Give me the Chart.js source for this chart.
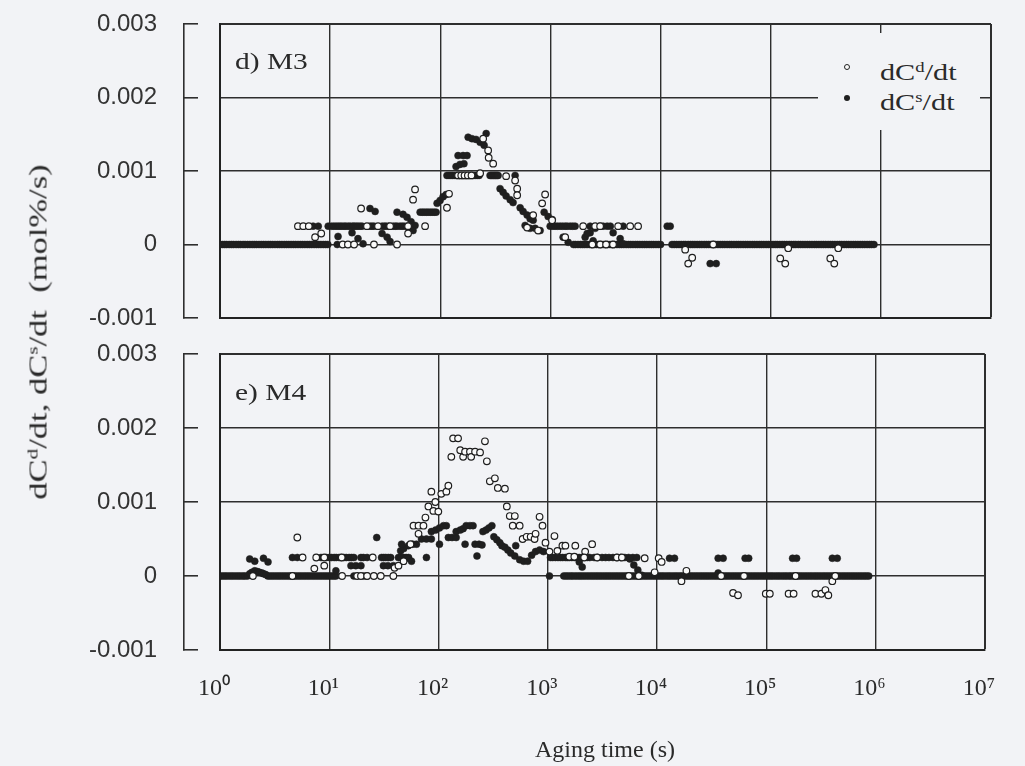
<!DOCTYPE html>
<html>
<head>
<meta charset="utf-8">
<script src="https://cdn.jsdelivr.net/npm/chart.js@4.4.1/dist/chart.umd.min.js"></script>
<style>
html,body{margin:0;padding:0;background:#f2f3f6;}
body{width:1025px;height:766px;position:relative;overflow:hidden;font-family:"Liberation Serif","Times New Roman",serif;color:#2a2a2a;}
.panel{position:absolute;left:0;width:1025px;}
#topPanel{top:0;height:335px;}
#botPanel{top:335px;height:431px;}
.txt{position:absolute;white-space:nowrap;line-height:1;transform-origin:0 0;z-index:5;}
.sp{position:relative;font-size:0.62em;top:-0.55em;}
#legend{position:absolute;left:818px;top:33px;width:162px;height:97px;background:#f2f3f6;z-index:4;}
.mk{position:absolute;width:6px;height:6px;border-radius:50%;box-sizing:border-box;}
#ytitleWrap{position:absolute;left:38px;top:332px;width:0;height:0;z-index:5;}
#ytitle{position:absolute;left:0;top:0;white-space:nowrap;line-height:1;font-size:25px;transform:translate(-50%,-50%) rotate(-90deg) scale(1.38,1);}
</style>
</head>
<body>
<div class="panel" id="topPanel"><canvas id="c1" width="1025" height="335"></canvas></div>
<div class="panel" id="botPanel"><canvas id="c2" width="1025" height="431"></canvas></div>

<div class="txt" style="left:235px;top:50px;font-size:23px;transform:scale(1.28,1);">d) M3</div>
<div class="txt" style="left:235px;top:381px;font-size:23px;transform:scale(1.28,1);">e) M4</div>

<div id="legend">
  <div class="mk" style="left:26px;top:31px;border:1.1px solid #222;background:#fafafa;"></div>
  <div class="mk" style="left:26px;top:62px;background:#1f1f1f;"></div>
  <div class="txt" style="left:62px;top:27px;font-size:24px;transform:scale(1.26,1);">dC<span class="sp">d</span>/dt</div>
  <div class="txt" style="left:62px;top:57px;font-size:24px;transform:scale(1.26,1);">dC<span class="sp">s</span>/dt</div>
</div>

<div id="ytitleWrap"><div id="ytitle">dC<span class="sp">d</span>/dt, dC<span class="sp">s</span>/dt&nbsp; (mol%/s)</div></div>

<div class="txt" id="xtitle" style="left:535px;top:737px;font-size:24px;">Aging time (s)</div>

<script>
// ---------- axis ticks ----------
const xTickValues = [1, 10, 100, 1000, 10000, 100000, 1000000, 10000000];
const xTickLabels = ['10\u2070', '10\u00B9', '10\u00B2', '10\u00B3', '10\u2074', '10\u2075', '10\u2076', '10\u2077'];
const yTickValues = [-0.001, 0, 0.001, 0.002, 0.003];
const yTickLabels = ['-0.001', '0', '0.001', '0.002', '0.003'];

// ---------- panel d) M3 ----------
// times (s) at which dCs/dt reads 0
const m3SurfaceZeroTimes = [
  1,1.05,1.1,1.15,1.21,1.27,1.33,1.4,1.47,1.54,1.62,1.69,1.78,1.87,1.96,2.05,2.15,2.26,2.37,2.49,2.61,2.74,2.87,3.01,3.16,3.32,3.48,3.65,3.83,4.02,4.22,4.42,4.64,4.87,5.11,5.36,5.62,5.9,6.19,6.49,6.81,7.15,7.5,7.87,8.25,8.66,9.09,9.53,11.6,
  1.62e3,1.69e3,1.78e3,1.87e3,1.96e3,2.05e3,2.15e3,2.26e3,2.37e3,2.49e3,2.61e3,2.74e3,2.87e3,3.01e3,3.16e3,3.32e3,3.48e3,3.65e3,3.83e3,4.02e3,4.22e3,4.42e3,4.64e3,4.87e3,5.11e3,5.36e3,5.62e3,5.9e3,6.19e3,6.49e3,6.81e3,7.15e3,7.5e3,7.87e3,8.25e3,8.66e3,9.09e3,9.53e3,1e4,
  1.27e4,1.33e4,1.4e4,1.47e4,1.54e4,1.62e4,1.69e4,1.78e4,1.87e4,1.96e4,2.05e4,2.15e4,2.26e4,2.37e4,2.49e4,2.61e4,2.74e4,2.87e4,3.01e4,3.16e4,3.32e4,3.48e4,3.65e4,3.83e4,4.02e4,4.22e4,4.42e4,4.64e4,4.87e4,5.11e4,5.36e4,5.62e4,5.9e4,6.19e4,6.49e4,6.81e4,7.15e4,7.5e4,7.87e4,8.25e4,8.66e4,9.09e4,9.53e4,
  1e5,1.05e5,1.1e5,1.15e5,1.21e5,1.27e5,1.33e5,1.4e5,1.47e5,1.54e5,1.62e5,1.69e5,1.78e5,1.87e5,1.96e5,2.05e5,2.15e5,2.26e5,2.37e5,2.49e5,2.61e5,2.74e5,2.87e5,3.01e5,3.16e5,3.32e5,3.48e5,3.65e5,3.83e5,4.02e5,4.22e5,4.42e5,4.64e5,4.87e5,5.11e5,5.36e5,5.62e5,5.9e5,6.19e5,6.49e5,6.81e5,7.15e5,7.5e5,7.87e5,8.25e5,8.66e5
];
// [time (s), dCs/dt (mol%/s)]
const m3SurfaceRate = [
  [7.0,0.00025],[7.8,0.00025],[9.6,0.00025],[10.3,0.00025],[10.8,0.00025],[11.3,0.00025],[11.8,0.00025],[12.3,0.00025],[12.8,0.00025],[13.4,0.00025],[13.9,0.00025],[14.6,0.00025],[15.2,0.00025],[16.0,0.00025],[16.5,0.00025],[17.2,0.00025],[17.9,0.00025],[18.7,0.00025],[19.5,0.00025],[23,0.00025],[24,0.00025],[25,0.00025],[29.6,0.00025],[31,0.00025],[32.2,0.00025],[34,0.00025],[37.3,0.00025],[39,0.00025],[40.5,0.00025],[43,0.00025],[45,0.00025],[47,0.00025],[49.9,0.00025],[54.3,0.00025],
  [11.8,0.00011],[15.8,0.00016],[17.9,0.00008],[19.9,0.00001],
  [23,0.00049],[25.6,0.00045],
  [29.6,0.00015],[32.9,0.0001],[35,0.00004],
  [40.5,0.00044],[45.9,0.00041],[49.9,0.00037],[54.3,0.00031],[59,0.00026],[56.6,0.00019],
  [65.6,0.00044],[68.5,0.00044],[71.3,0.00044],[74.5,0.00044],[77.5,0.00044],[81,0.00044],[84.3,0.00044],[88,0.00044],[91.6,0.00044],
  [93.5,0.00056],[99.6,0.0006],[106,0.00065],[113,0.00068],
  [115,0.00094],[120,0.00094],[125,0.00094],[130,0.00094],[136,0.00094],[142,0.00094],[148,0.00094],[155,0.00094],[161,0.00094],[168,0.00094],[175,0.00094],[182,0.00094],[190,0.00094],[198,0.00094],[207,0.00094],[216,0.00094],[225,0.00094],
  [139,0.00106],[151,0.00109],[164,0.0011],
  [145,0.00121],[161,0.00121],[175,0.00121],
  [179,0.00146],[194,0.00144],[211,0.00143],[230,0.00139],[250,0.00135],[261,0.00151],
  [283,0.00094],[289,0.00094],[295,0.00094],[302,0.00094],[308,0.00094],[315,0.00094],[321,0.00094],[328,0.00094],[335,0.00094],[478,0.00094],
  [349,0.00076],[372,0.00071],[396,0.00066],[431,0.00061],[458,0.00057],
  [531,0.0005],[565,0.00045],[614,0.0004],[654,0.00035],[697,0.00033],
  [589,0.00026],[654,0.00022],[726,0.00022],[806,0.00019],
  [877,0.00044],[953,0.00038],[1036,0.00034],
  [994,0.00025],[1050,0.00025],[1104,0.00025],[1160,0.00025],[1225,0.00025],[1290,0.00025],[1361,0.00025],[1420,0.00025],[1510,0.00025],[1590,0.00025],[1675,0.00025],
  [1304,0.0001],[1449,0.00003],
  [2066,0.0001],[2294,0.00016],[2547,0.00022],[2826,0.00025],
  [2154,0.00015],[2443,0.00005],
  [2294,0.00025],[3011,0.00025],[3273,0.00025],[3500,0.00025],[4575,0.00025],
  [3709,0.00016],[4295,0.00008],[4575,0.00001],
  [11490,0.00025],[12230,0.00025],
  [28200,-0.00026],[31990,-0.00026]
];
// [time (s), dCd/dt (mol%/s)]
const m3DesorbRate = [
  [5.1,0.00025],[5.7,0.00025],[6.4,0.00025],
  [7.3,0.0001],[8.3,0.00015],
  [13,0],[14.5,0],[16.5,0],
  [19.1,0.00049],
  [21.6,0.00025],[25,0],[27.2,0.00025],[35,0.00025],[40.5,0],
  [51,0.00025],[51,0.00015],
  [59,0.00075],[56.6,0.00061],
  [72.8,0.00025],
  [115,0.0005],[120,0.00069],
  [145,0.00094],[155,0.00094],[166,0.00094],[178,0.00094],[192,0.00094],[230,0.00097],
  [245,0.00144],[272,0.00128],[275,0.00118],[302,0.0011],
  [396,0.00093],[478,0.00087],
  [499,0.00076],[499,0.00067],
  [697,0.0004],[614,0.00023],[773,0.00019],
  [895,0.00068],[841,0.00056],
  [1036,0.00033],[1361,0.0001],
  [1982,0.00025],[2547,0.00025],[2826,0.00025],[4120,0.00025],[5295,0.00025],[6250,0.00025],
  [2400,0],[2830,0],[3200,0],[3700,0],
  [16730,-0.00007],[19370,-0.00018],[17820,-0.00026],
  [30040,0],
  [144200,-0.00005],[122000,-0.00019],[135500,-0.00026],
  [410500,-0.00005],[347500,-0.00019],[377700,-0.00026]
];

// ---------- panel e) M4 ----------
const m4SurfaceZeroTimes = [
  1,1.05,1.1,1.15,1.21,1.27,1.33,1.4,1.47,1.54,1.62,1.69,1.78,
  2.74,2.87,3.01,3.16,3.32,3.48,3.65,3.83,4.02,4.22,4.42,4.64,4.87,5.11,5.36,5.62,5.9,6.19,6.49,6.81,7.15,7.5,7.87,8.25,8.66,9.09,9.53,10,10.5,11,11.5,
  16.8,20.7,22.2,1036,
  1.4e3,1.47e3,1.54e3,1.62e3,1.69e3,1.78e3,1.87e3,1.96e3,2.05e3,2.15e3,2.26e3,2.37e3,2.49e3,2.61e3,2.74e3,2.87e3,3.01e3,3.16e3,3.32e3,3.48e3,3.65e3,3.83e3,4.02e3,4.22e3,4.42e3,4.64e3,4.87e3,5.11e3,5.36e3,5.62e3,5.9e3,6.19e3,6.49e3,6.81e3,7.15e3,7.5e3,7.87e3,8.25e3,8.66e3,9.09e3,9.53e3,
  1e4,1.05e4,1.1e4,1.15e4,1.21e4,1.27e4,1.33e4,1.4e4,1.47e4,1.54e4,1.62e4,1.69e4,1.78e4,1.87e4,1.96e4,2.05e4,2.15e4,2.26e4,2.37e4,2.49e4,2.61e4,2.74e4,2.87e4,3.01e4,3.16e4,3.32e4,3.48e4,3.65e4,3.83e4,4.02e4,4.22e4,4.42e4,4.64e4,4.87e4,5.11e4,5.36e4,5.62e4,5.9e4,6.19e4,6.49e4,6.81e4,7.15e4,7.5e4,7.87e4,8.25e4,8.66e4,9.09e4,9.53e4,
  1e5,1.05e5,1.1e5,1.15e5,1.21e5,1.27e5,1.33e5,1.4e5,1.47e5,1.54e5,1.62e5,1.69e5,1.78e5,1.87e5,1.96e5,2.05e5,2.15e5,2.26e5,2.37e5,2.49e5,2.61e5,2.74e5,2.87e5,3.01e5,3.16e5,3.32e5,3.48e5,3.65e5,3.83e5,4.02e5,4.22e5,4.42e5,4.64e5,4.87e5,5.11e5,5.36e5,5.62e5,5.9e5,6.19e5,6.49e5,6.81e5,7.15e5,7.5e5,7.87e5,8.25e5,8.66e5
];
const m4SurfaceRate = [
  [1.87,0.00023],[2.08,0.0002],[2.5,0.00024],[2.75,0.00019],
  [1.87,0.00003],[1.96,0.00005],[2.08,0.00007],[2.2,0.00006],[2.3,0.00005],[2.42,0.00004],[2.5,0.00003],[2.62,0.00002],
  [4.6,0.00025],[5.1,0.00025],
  [8.4,0.00025],[9.4,0.00025],[10,0.00025],[10.5,0.00025],[11.1,0.00025],[11.6,0.00025],[12.3,0.00025],[12.9,0.00025],[13.6,0.00025],[14.3,0.00025],[15.2,0.00025],[16,0.00025],[16.8,0.00025],[19.5,0.00025],[20.5,0.00025],[22.2,0.00025],[30.1,0.00025],[31.5,0.00025],[32.9,0.00025],[34.7,0.00025],[36.5,0.00025],[43,0.00025],[45.5,0.00025],[47.9,0.00025],[50.5,0.00025],[53.2,0.00025],
  [11.5,0.00007],
  [15.8,0.00014],[17.5,0.00014],[19.5,0.00014],
  [31.3,0.00014],[34.4,0.00014],[38.6,0.00014],
  [27.2,0.00052],
  [45,0.00034],[48,0.00037],[53,0.00041],[58,0.00043],
  [51,0.00024],[56.6,0.0002],
  [45.9,0.00043],[62.8,0.00043],
  [69.8,0.0005],[77.5,0.0005],[86,0.0005],
  [77.5,0.00025],
  [86,0.0006],[94,0.00062],[102,0.00065],[111,0.00068],[118,0.00068],
  [102,0.00043],
  [123,0.00052],[133,0.00052],[145,0.00052],
  [145,0.0006],[158,0.00062],[168,0.00064],
  [175,0.00043],
  [179,0.00068],[194,0.00068],[207,0.00068],
  [216,0.00043],[235,0.00043],[250,0.00042],
  [225,0.00027],
  [255,0.0006],[272,0.00062],[289,0.00065],[308,0.00068],
  [321,0.00053],[342,0.00049],[364,0.00045],[380,0.00041],
  [405,0.00039],[431,0.00035],[458,0.00031],[499,0.00027],
  [509,0.00041],
  [553,0.00022],[601,0.0002],[654,0.0002],
  [711,0.00028],[773,0.00033],[841,0.00035],[914,0.00033],
  [1059,0.00025],[1110,0.00025],[1175,0.00025],[1240,0.00025],[1304,0.00025],[1370,0.00025],[1449,0.00025],[1510,0.00025],[1574,0.00025],[1660,0.00025],[1749,0.00025],[1840,0.00025],[1941,0.00025],[2050,0.00025],[2294,0.00025],[2420,0.00025],[2655,0.00025],[2850,0.00025],[3139,0.00025],[3380,0.00025],[3632,0.00025],[3950,0.00025],[4295,0.00025],[4650,0.00025],[5078,0.00025],[5500,0.00025],[6000,0.00025],[6530,0.00025],
  [1941,0.00019],[2066,0.00012],
  [5637,0.00023],[6128,0.00015],[6668,0.00008],[7244,0.00001],
  [13010,0.00024],[14450,0.00024],
  [36250,0.00024],[40270,0.00024],
  [64000,0.00024],[69000,0.00024],
  [174000,0.00024],[189300,0.00024],
  [402100,0.00024],[446000,0.00024],
  [36250,0.00004]
];
const m4DesorbRate = [
  [5.1,0.00052],[5.7,0.00025],
  [7.3,0.0001],[9.0,0.00014],
  [7.6,0.00025],[9.0,0.00025],[13,0.00025],[25,0.00025],
  [2.0,0],[4.6,0],[13.1,0],[18,0],[19.5,0],[22.2,0],[25.6,0],[29.6,0],[38.6,0],
  [39.6,0.00011],
  [43,0.00014],[47.9,0.0002],[55.4,0.00043],
  [59,0.00068],[65.6,0.00068],[72.8,0.00068],[65.6,0.00057],
  [75.9,0.00079],[80.8,0.00094],[86,0.00114],[93.5,0.001],[89.7,0.00088],[99.6,0.00087],[106,0.00111],[118,0.00114],[123,0.00122],
  [136,0.00186],[151,0.00186],[131,0.00161],[158,0.0017],[168,0.00161],[175,0.00168],[194,0.00168],[199,0.00161],[216,0.00168],[240,0.00167],[266,0.00182],[277,0.00155],
  [295,0.00128],[328,0.00132],[349,0.00119],[405,0.00118],[422,0.00094],[449,0.00081],[499,0.00081],[478,0.00068],[553,0.00068],
  [589,0.0005],[641,0.00053],[697,0.00053],[757,0.0005],[773,0.00057],[841,0.0008],[895,0.00068],[953,0.00045],[1036,0.00033],[1151,0.00054],[1225,0.00034],[1361,0.00041],[1449,0.00041],[1574,0.00026],[1749,0.00026],[1786,0.00041],[2198,0.00033],[2547,0.00043],
  [2154,0.00025],[2826,0.00025],[4295,0.00025],[4767,0.00025],
  [7709,0.00024],[9507,0.00005],[10350,0.00024],[11020,0.00019],[18570,0.00007],[16730,-0.00007],
  [49640,-0.00023],[55090,-0.00026],[98900,-0.00024],[107700,-0.00024],[160000,-0.00024],[177800,-0.00024],[281600,-0.00024],[319400,-0.00024],[347500,-0.00019],[369700,-0.00026],[402100,-0.00007],
  [5521,0],[6808,0],[38620,0],[62500,0],[185400,0],[427600,0]
];

// ---------- build charts ----------
const INK = '#1f1f1f';
const GRID = '#2e2e2e';

function pts(zeroTimes, pairs) {
  const out = [];
  (zeroTimes || []).forEach(t => out.push({x: t, y: 0}));
  pairs.forEach(p => out.push({x: p[0], y: p[1]}));
  return out;
}

function setY(s) { s.ticks = yTickValues.map(v => ({value: v})); }
function setX(s) { s.ticks = xTickValues.map(v => ({value: v})); }

function options(showX, padTop) {
  return {
    responsive: false,
    animation: false,
    events: [],
    layout: {padding: {top: padTop, right: 34, left: 0, bottom: 0}},
    plugins: {legend: {display: false}, tooltip: {enabled: false}},
    scales: {
      x: {
        type: 'logarithmic', position: 'bottom', min: 1, max: 1e7,
        afterBuildTicks: setX,
        afterFit: s => { s.height = showX ? 116 : 17; },
        grid: {color: GRID, lineWidth: c => (c.index === 7 ? 2 : 1.4), drawTicks: false},
        border: {display: true, color: '#222', width: 2},
        ticks: {display: showX, autoSkip: false, maxRotation: 0, padding: 24, labelOffset: -6,
          font: {family: 'Liberation Serif', size: 24}, color: '#2a2a2a',
          callback: (v, i) => xTickLabels[i]}
      },
      y: {
        type: 'linear', position: 'left', min: -0.001, max: 0.003, weight: 0,
        afterBuildTicks: setY,
        afterFit: s => { s.width = 36; s.paddingTop = 0; s.paddingBottom = 0; },
        grid: {color: GRID, lineWidth: c => (c.index === 4 ? 2 : 1.4), drawTicks: false},
        border: {display: true, color: '#222', width: 2},
        ticks: {display: false}
      },
      yb: {
        type: 'linear', position: 'left', min: -0.001, max: 0.003, weight: 1,
        afterBuildTicks: setY,
        afterFit: s => { s.width = 184; s.paddingTop = 0; s.paddingBottom = 0; },
        grid: {drawOnChartArea: false, drawTicks: true, tickLength: -14, color: GRID, lineWidth: 1.6},
        border: {display: true, color: GRID, width: 1.6},
        ticks: {display: true, autoSkip: false, padding: 41,
          font: {family: 'Liberation Sans', size: 24}, color: '#333',
          callback: (v, i) => yTickLabels[i]}
      }
    }
  };
}

function datasets(desorb, surfZero, surf) {
  return [
    {label: 'dCd/dt', data: pts(null, desorb), xAxisID: 'x', yAxisID: 'y',
     pointRadius: 3.3, pointBorderWidth: 1.2, pointBackgroundColor: '#fafafa', pointBorderColor: INK, showLine: false},
    {label: 'dCs/dt', data: pts(surfZero, surf), xAxisID: 'x', yAxisID: 'y',
     pointRadius: 3.5, pointBorderWidth: 0.5, pointBackgroundColor: INK, pointBorderColor: INK, showLine: false}
  ];
}

new Chart(document.getElementById('c1'), {
  type: 'scatter',
  data: {datasets: datasets(m3DesorbRate, m3SurfaceZeroTimes, m3SurfaceRate)},
  options: options(false, 24)
});
new Chart(document.getElementById('c2'), {
  type: 'scatter',
  data: {datasets: datasets(m4DesorbRate, m4SurfaceZeroTimes, m4SurfaceRate)},
  options: options(true, 19)
});
</script>
</body>
</html>
